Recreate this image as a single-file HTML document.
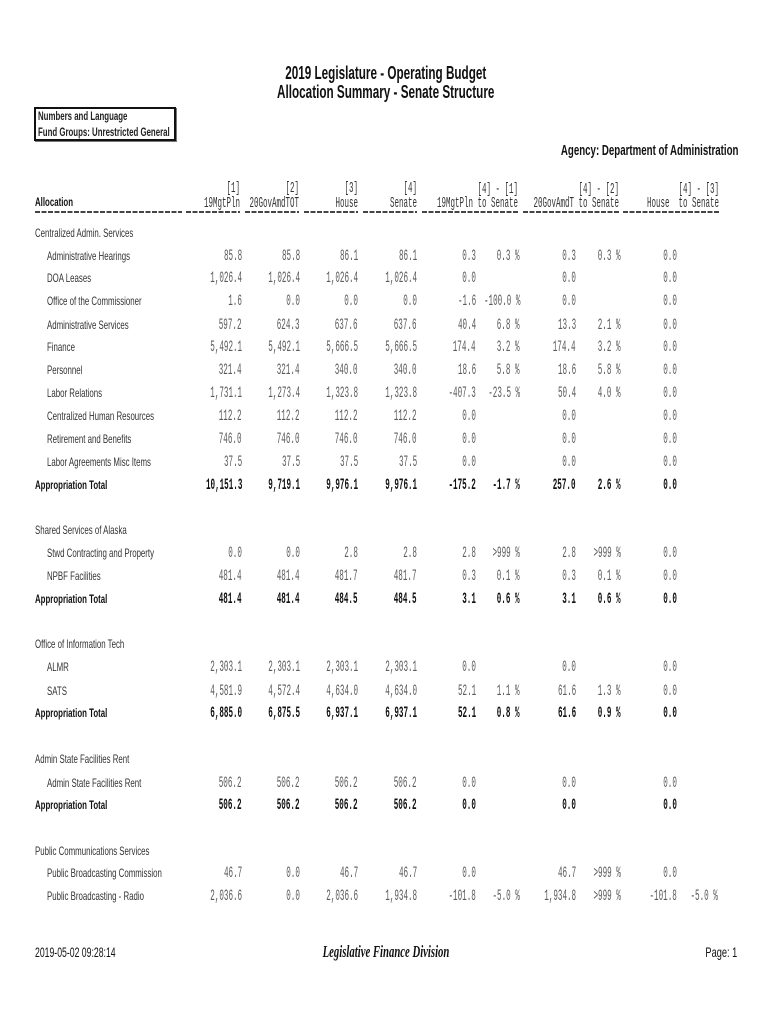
<!DOCTYPE html>
<html><head><meta charset="utf-8">
<style>
html,body{margin:0;padding:0;background:#fff;}
body{width:770px;height:1024px;position:relative;overflow:hidden;}
.t{position:absolute;white-space:pre;}
.ttl{font:bold 18.5px/18.5px "Liberation Sans",sans-serif;color:#111;left:0;width:770px;text-align:center;transform:scaleX(.633);transform-origin:387px 50%;}
.box{position:absolute;left:34px;top:107px;width:142px;height:34px;box-sizing:border-box;border:2px solid #111;box-shadow:1px 1px 0 #777;}
.bx{font:bold 12px/12px "Liberation Sans",sans-serif;color:#222;transform:scaleX(.654);transform-origin:0 50%;left:38px;}
.ag{font:bold 15px/15px "Liberation Sans",sans-serif;color:#111;right:32px;transform:scaleX(.647);transform-origin:100% 50%;}
.r{position:absolute;left:0;width:770px;height:14px;}
.l{position:absolute;top:0;font:12px/12px "Liberation Sans",sans-serif;color:#333;transform:scaleX(.655);transform-origin:0 50%;white-space:pre;}
.lb{font-weight:bold;color:#111;}
.s{left:35px;}
.i{left:47px;}
.n{position:absolute;top:-1px;font:15.5px/15.5px "Liberation Mono",monospace;color:#5a5a5a;transform:scaleX(.49);transform-origin:100% 50%;white-space:pre;}
.r.tot .n{font-weight:bold;color:#111;}
.c1{right:528px}.c2{right:470px}.c3{right:412px}.c4{right:353px}.c5{right:294px}
.c6{right:250px}.c7{right:194px}.c8{right:149px}.c9{right:93px}.c10{right:52px}
.h{position:absolute;font:15px/15px "Liberation Mono",monospace;color:#333;transform:scaleX(.5);transform-origin:100% 50%;white-space:pre;}
.dash{position:absolute;top:211px;height:2px;background:repeating-linear-gradient(90deg,#444 0 5px,transparent 5px 6.5px);}
.ft{font:14px/14px "Liberation Sans",sans-serif;color:#111;}
.sc{font:italic bold 17px/17px "Liberation Serif",serif;color:#111;left:0;width:772px;text-align:center;transform:scaleX(.63);transform-origin:386px 50%;}
</style></head><body>

<div class="t ttl" style="top:64.3px">2019 Legislature - Operating Budget</div>
<div class="t ttl" style="top:83.3px">Allocation Summary - Senate Structure</div>

<div class="box"></div>
<div class="t bx" style="top:110px">Numbers and Language</div>
<div class="t bx" style="top:125.8px">Fund Groups: Unrestricted General</div>

<div class="t ag" style="top:143.3px">Agency: Department of Administration</div>

<!-- column headers -->
<div class="t l lb" style="left:35px;top:196px">Allocation</div>
<div class="h" style="top:180.5px;right:530px">[1]</div>
<div class="h" style="top:195.5px;right:530px">19MgtPln</div>
<div class="h" style="top:180.5px;right:470.5px">[2]</div>
<div class="h" style="top:195.5px;right:470.5px">20GovAmdTOT</div>
<div class="h" style="top:180.5px;right:412px">[3]</div>
<div class="h" style="top:195.5px;right:412px">House</div>
<div class="h" style="top:180.5px;right:353px">[4]</div>
<div class="h" style="top:195.5px;right:353px">Senate</div>
<div class="h" style="top:181.5px;right:252px">[4] - [1]</div>
<div class="h" style="top:195.5px;right:252px">19MgtPln to Senate</div>
<div class="h" style="top:181.5px;right:151px">[4] - [2]</div>
<div class="h" style="top:195.5px;right:151px">20GovAmdT to Senate</div>
<div class="h" style="top:181.5px;right:51px">[4] - [3]</div>
<div class="h" style="top:195.5px;right:51px">House  to Senate</div>

<div class="dash" style="left:35px;width:147px"></div>
<div class="dash" style="left:186px;width:54px"></div>
<div class="dash" style="left:245px;width:54px"></div>
<div class="dash" style="left:304px;width:54px"></div>
<div class="dash" style="left:363px;width:54px"></div>
<div class="dash" style="left:422px;width:96px"></div>
<div class="dash" style="left:523px;width:96px"></div>
<div class="dash" style="left:623px;width:97px"></div>

<!-- Centralized Admin. Services -->
<div class="r" style="top:227px"><div class="l s">Centralized Admin. Services</div></div>
<div class="r" style="top:249.5px"><div class="l i">Administrative Hearings</div>
<div class="n c1">85.8</div><div class="n c2">85.8</div><div class="n c3">86.1</div><div class="n c4">86.1</div><div class="n c5">0.3</div><div class="n c6">0.3 %</div><div class="n c7">0.3</div><div class="n c8">0.3 %</div><div class="n c9">0.0</div></div>
<div class="r" style="top:272px"><div class="l i">DOA Leases</div>
<div class="n c1">1,026.4</div><div class="n c2">1,026.4</div><div class="n c3">1,026.4</div><div class="n c4">1,026.4</div><div class="n c5">0.0</div><div class="n c7">0.0</div><div class="n c9">0.0</div></div>
<div class="r" style="top:295px"><div class="l i">Office of the Commissioner</div>
<div class="n c1">1.6</div><div class="n c2">0.0</div><div class="n c3">0.0</div><div class="n c4">0.0</div><div class="n c5">-1.6</div><div class="n c6">-100.0 %</div><div class="n c7">0.0</div><div class="n c9">0.0</div></div>
<div class="r" style="top:318.5px"><div class="l i">Administrative Services</div>
<div class="n c1">597.2</div><div class="n c2">624.3</div><div class="n c3">637.6</div><div class="n c4">637.6</div><div class="n c5">40.4</div><div class="n c6">6.8 %</div><div class="n c7">13.3</div><div class="n c8">2.1 %</div><div class="n c9">0.0</div></div>
<div class="r" style="top:341px"><div class="l i">Finance</div>
<div class="n c1">5,492.1</div><div class="n c2">5,492.1</div><div class="n c3">5,666.5</div><div class="n c4">5,666.5</div><div class="n c5">174.4</div><div class="n c6">3.2 %</div><div class="n c7">174.4</div><div class="n c8">3.2 %</div><div class="n c9">0.0</div></div>
<div class="r" style="top:364px"><div class="l i">Personnel</div>
<div class="n c1">321.4</div><div class="n c2">321.4</div><div class="n c3">340.0</div><div class="n c4">340.0</div><div class="n c5">18.6</div><div class="n c6">5.8 %</div><div class="n c7">18.6</div><div class="n c8">5.8 %</div><div class="n c9">0.0</div></div>
<div class="r" style="top:387px"><div class="l i">Labor Relations</div>
<div class="n c1">1,731.1</div><div class="n c2">1,273.4</div><div class="n c3">1,323.8</div><div class="n c4">1,323.8</div><div class="n c5">-407.3</div><div class="n c6">-23.5 %</div><div class="n c7">50.4</div><div class="n c8">4.0 %</div><div class="n c9">0.0</div></div>
<div class="r" style="top:410px"><div class="l i">Centralized Human Resources</div>
<div class="n c1">112.2</div><div class="n c2">112.2</div><div class="n c3">112.2</div><div class="n c4">112.2</div><div class="n c5">0.0</div><div class="n c7">0.0</div><div class="n c9">0.0</div></div>
<div class="r" style="top:433px"><div class="l i">Retirement and Benefits</div>
<div class="n c1">746.0</div><div class="n c2">746.0</div><div class="n c3">746.0</div><div class="n c4">746.0</div><div class="n c5">0.0</div><div class="n c7">0.0</div><div class="n c9">0.0</div></div>
<div class="r" style="top:455.5px"><div class="l i">Labor Agreements Misc Items</div>
<div class="n c1">37.5</div><div class="n c2">37.5</div><div class="n c3">37.5</div><div class="n c4">37.5</div><div class="n c5">0.0</div><div class="n c7">0.0</div><div class="n c9">0.0</div></div>
<div class="r tot" style="top:478.5px"><div class="l lb s">Appropriation Total</div>
<div class="n c1">10,151.3</div><div class="n c2">9,719.1</div><div class="n c3">9,976.1</div><div class="n c4">9,976.1</div><div class="n c5">-175.2</div><div class="n c6">-1.7 %</div><div class="n c7">257.0</div><div class="n c8">2.6 %</div><div class="n c9">0.0</div></div>

<!-- Shared Services of Alaska -->
<div class="r" style="top:524px"><div class="l s">Shared Services of Alaska</div></div>
<div class="r" style="top:547px"><div class="l i">Stwd Contracting and Property</div>
<div class="n c1">0.0</div><div class="n c2">0.0</div><div class="n c3">2.8</div><div class="n c4">2.8</div><div class="n c5">2.8</div><div class="n c6">&gt;999 %</div><div class="n c7">2.8</div><div class="n c8">&gt;999 %</div><div class="n c9">0.0</div></div>
<div class="r" style="top:569.5px"><div class="l i">NPBF Facilities</div>
<div class="n c1">481.4</div><div class="n c2">481.4</div><div class="n c3">481.7</div><div class="n c4">481.7</div><div class="n c5">0.3</div><div class="n c6">0.1 %</div><div class="n c7">0.3</div><div class="n c8">0.1 %</div><div class="n c9">0.0</div></div>
<div class="r tot" style="top:593px"><div class="l lb s">Appropriation Total</div>
<div class="n c1">481.4</div><div class="n c2">481.4</div><div class="n c3">484.5</div><div class="n c4">484.5</div><div class="n c5">3.1</div><div class="n c6">0.6 %</div><div class="n c7">3.1</div><div class="n c8">0.6 %</div><div class="n c9">0.0</div></div>

<!-- Office of Information Tech -->
<div class="r" style="top:638px"><div class="l s">Office of Information Tech</div></div>
<div class="r" style="top:661px"><div class="l i">ALMR</div>
<div class="n c1">2,303.1</div><div class="n c2">2,303.1</div><div class="n c3">2,303.1</div><div class="n c4">2,303.1</div><div class="n c5">0.0</div><div class="n c7">0.0</div><div class="n c9">0.0</div></div>
<div class="r" style="top:684.5px"><div class="l i">SATS</div>
<div class="n c1">4,581.9</div><div class="n c2">4,572.4</div><div class="n c3">4,634.0</div><div class="n c4">4,634.0</div><div class="n c5">52.1</div><div class="n c6">1.1 %</div><div class="n c7">61.6</div><div class="n c8">1.3 %</div><div class="n c9">0.0</div></div>
<div class="r tot" style="top:707px"><div class="l lb s">Appropriation Total</div>
<div class="n c1">6,885.0</div><div class="n c2">6,875.5</div><div class="n c3">6,937.1</div><div class="n c4">6,937.1</div><div class="n c5">52.1</div><div class="n c6">0.8 %</div><div class="n c7">61.6</div><div class="n c8">0.9 %</div><div class="n c9">0.0</div></div>

<!-- Admin State Facilities Rent -->
<div class="r" style="top:752.5px"><div class="l s">Admin State Facilities Rent</div></div>
<div class="r" style="top:776.5px"><div class="l i">Admin State Facilities Rent</div>
<div class="n c1">506.2</div><div class="n c2">506.2</div><div class="n c3">506.2</div><div class="n c4">506.2</div><div class="n c5">0.0</div><div class="n c7">0.0</div><div class="n c9">0.0</div></div>
<div class="r tot" style="top:799px"><div class="l lb s">Appropriation Total</div>
<div class="n c1">506.2</div><div class="n c2">506.2</div><div class="n c3">506.2</div><div class="n c4">506.2</div><div class="n c5">0.0</div><div class="n c7">0.0</div><div class="n c9">0.0</div></div>

<!-- Public Communications Services -->
<div class="r" style="top:844.5px"><div class="l s">Public Communications Services</div></div>
<div class="r" style="top:867px"><div class="l i">Public Broadcasting Commission</div>
<div class="n c1">46.7</div><div class="n c2">0.0</div><div class="n c3">46.7</div><div class="n c4">46.7</div><div class="n c5">0.0</div><div class="n c7">46.7</div><div class="n c8">&gt;999 %</div><div class="n c9">0.0</div></div>
<div class="r" style="top:890px"><div class="l i">Public Broadcasting - Radio</div>
<div class="n c1">2,036.6</div><div class="n c2">0.0</div><div class="n c3">2,036.6</div><div class="n c4">1,934.8</div><div class="n c5">-101.8</div><div class="n c6">-5.0 %</div><div class="n c7">1,934.8</div><div class="n c8">&gt;999 %</div><div class="n c9">-101.8</div><div class="n c10">-5.0 %</div></div>

<!-- footer -->
<div class="t ft" style="left:35px;top:944.8px;transform:scaleX(.62);transform-origin:0 50%">2019-05-02 09:28:14</div>
<div class="t sc" style="top:943px">Legislative Finance Division</div>
<div class="t ft" style="right:33px;top:944.8px;transform:scaleX(.66);transform-origin:100% 50%">Page: 1</div>

</body></html>
